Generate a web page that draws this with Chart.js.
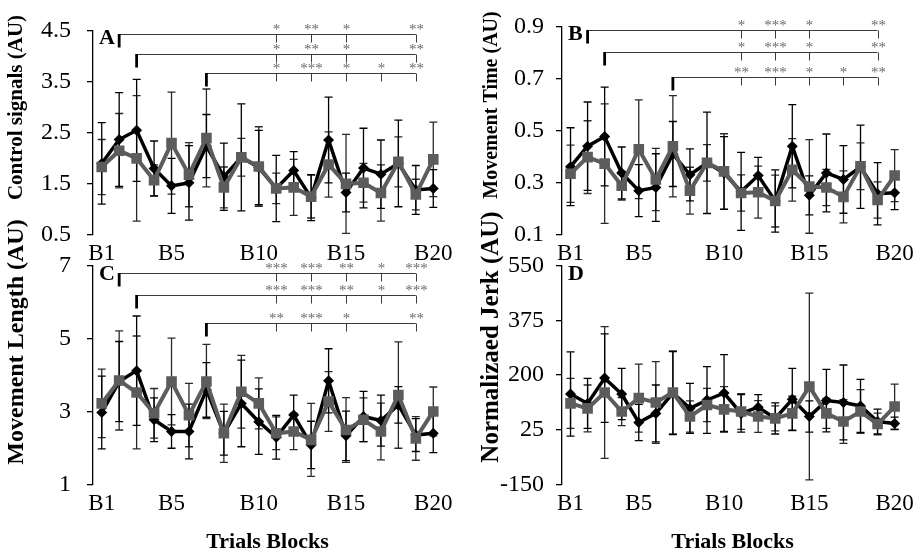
<!DOCTYPE html>
<html>
<head>
<meta charset="utf-8">
<script src="https://cdn.jsdelivr.net/npm/chart.js@4.4.1/dist/chart.umd.min.js"></script>
<style>
body { margin: 0; background: #fff; }
#lienzo { position: relative; width: 920px; height: 556px; overflow: hidden; }
#lienzo canvas { position: absolute; left: 0; top: 0; }
</style>
</head>
<body>
<div id="lienzo">
  <canvas id="panelA" width="920" height="556"></canvas>
  <canvas id="panelB" width="920" height="556"></canvas>
  <canvas id="panelC" width="920" height="556"></canvas>
  <canvas id="panelD" width="920" height="556"></canvas>
</div>
<script>
const bloques = ['B1', 'B2', 'B3', 'B4', 'B5', 'B6', 'B7', 'B8', 'B9', 'B10',
                 'B11', 'B12', 'B13', 'B14', 'B15', 'B16', 'B17', 'B18', 'B19', 'B20'];
const etiquetasX = ['B1', 'B5', 'B10', 'B15', 'B20'];

// A - control signals
const controlNegro    = [1.89, 2.36, 2.54, 1.79, 1.45, 1.51, 2.23, 1.63, 2.01, 1.81, 1.40, 1.75, 1.22, 2.35, 1.32, 1.80, 1.68, 1.89, 1.37, 1.40];
const controlNegroErr = [0.80, 0.92, 1.00, 0.54, 0.54, 0.73, 0.62, 0.66, 1.05, 0.73, 0.65, 0.37, 0.45, 0.84, 0.38, 0.78, 0.67, 0.85, 0.48, 0.37];
const controlGris     = [1.82, 2.14, 1.99, 1.56, 2.29, 1.67, 2.39, 1.42, 2.01, 1.83, 1.40, 1.42, 1.24, 1.87, 1.49, 1.51, 1.31, 1.92, 1.28, 1.97];
const controlGrisErr  = [0.54, 0.73, 1.23, 0.30, 1.00, 0.63, 0.96, 0.40, 0.37, 0.78, 0.30, 0.55, 0.42, 0.64, 0.97, 0.38, 0.55, 0.49, 0.30, 0.73];
const ticksControl = [0.5, 1.5, 2.5, 3.5, 4.5];
const nivelesControl = [4.43, 4.04, 3.67];
const sigControl = [['*', '**', '*', '', '**'], ['*', '**', '*', '', '**'], ['*', '***', '*', '*', '**']];

// B - movement time
const tiempoNegro    = [0.360, 0.439, 0.476, 0.336, 0.268, 0.280, 0.409, 0.329, 0.375, 0.336, 0.265, 0.326, 0.228, 0.439, 0.250, 0.336, 0.311, 0.360, 0.256, 0.260];
const tiempoNegroErr = [0.150, 0.170, 0.190, 0.100, 0.100, 0.130, 0.125, 0.100, 0.195, 0.140, 0.150, 0.070, 0.120, 0.160, 0.075, 0.150, 0.130, 0.160, 0.120, 0.065];
const tiempoGris     = [0.333, 0.397, 0.372, 0.287, 0.427, 0.311, 0.439, 0.268, 0.375, 0.342, 0.259, 0.262, 0.228, 0.348, 0.284, 0.280, 0.244, 0.362, 0.232, 0.326];
const tiempoGrisErr  = [0.110, 0.140, 0.230, 0.055, 0.190, 0.120, 0.195, 0.090, 0.070, 0.145, 0.070, 0.100, 0.100, 0.120, 0.180, 0.070, 0.100, 0.090, 0.070, 0.100];
const ticksTiempo = [0.1, 0.3, 0.5, 0.7, 0.9];
const nivelesTiempo = [0.887, 0.803, 0.704];
const sigTiempo = [['*', '***', '*', '', '**'], ['*', '***', '*', '', '**'], ['**', '***', '*', '*', '**']];

// C - movement length
const longNegro    = [2.97, 3.82, 4.12, 2.77, 2.45, 2.45, 3.59, 2.40, 3.22, 2.72, 2.29, 2.90, 2.08, 3.84, 2.33, 2.86, 2.75, 3.18, 2.35, 2.40];
const longNegroErr = [1.00, 1.10, 1.50, 0.60, 0.46, 0.75, 0.75, 0.60, 1.19, 0.90, 0.60, 0.55, 0.65, 0.88, 0.68, 0.69, 0.70, 0.50, 0.45, 0.53];
const longGris     = [3.22, 3.85, 3.52, 2.95, 3.82, 2.90, 3.82, 2.40, 3.54, 3.22, 2.40, 2.45, 2.22, 3.27, 2.49, 2.77, 2.45, 3.45, 2.26, 3.00];
const longGrisErr  = [0.94, 1.36, 1.55, 0.68, 1.19, 0.87, 1.02, 0.80, 1.00, 0.70, 0.45, 0.50, 1.00, 0.82, 0.89, 0.60, 0.78, 1.46, 0.60, 0.67];
const ticksLong = [1, 3, 5, 7];
const nivelesLong = [6.79, 6.20, 5.42];
const sigLong = [['***', '***', '**', '*', '***'], ['***', '***', '**', '*', '***'], ['**', '***', '*', '', '**']];

// D - normalized jerk
const jerkNegro    = [139, 109, 190, 139, 48, 77, 142, 93, 120, 142, 77, 97, 61, 122, 67, 118, 112, 101, 51, 45];
const jerkNegroErr = [135, 80, 142, 82, 58, 91, 133, 80, 107, 123, 60, 40, 50, 99, 50, 100, 120, 85, 40, 20];
const jerkGris     = [109, 93, 144, 83, 126, 112, 144, 67, 104, 90, 83, 67, 61, 77, 163, 77, 51, 83, 43, 99];
const jerkGrisErr  = [80, 75, 211, 45, 109, 131, 133, 50, 53, 73, 57, 51, 40, 55, 299, 48, 70, 70, 35, 72];
const ticksJerk = [-150, 25, 200, 375, 550];

const iniciosCorchete = ['B2', 'B3', 'B7'];
const columnasSig = ['B11', 'B13', 'B15', 'B17', 'B19'];

const SERIF = '"Liberation Serif", "Times New Roman", serif';

// error bars for every dataset
const barrasError = {
    id: 'barrasError',
    beforeDatasetsDraw(chart) {
        const { ctx, scales: { x, y } } = chart;
        ctx.save();
        chart.data.datasets.forEach(ds => {
            ctx.strokeStyle = ds.colorError;
            ctx.lineWidth = 1.3;
            ds.data.forEach((v, i) => {
                const px = x.getPixelForValue(i);
                const arriba = y.getPixelForValue(v + ds.errores[i]);
                const abajo = y.getPixelForValue(v - ds.errores[i]);
                ctx.beginPath();
                ctx.moveTo(px, arriba); ctx.lineTo(px, abajo);
                ctx.moveTo(px - 4, arriba); ctx.lineTo(px + 4, arriba);
                ctx.moveTo(px - 4, abajo); ctx.lineTo(px + 4, abajo);
                ctx.stroke();
            });
        });
        ctx.restore();
    }
};

function crearDecoraciones(config) {
    return {
        id: 'decoraciones',
        afterDraw(chart) {
            const { ctx, chartArea, scales: { x, y } } = chart;
            ctx.save();
            // panel letter
            ctx.fillStyle = '#000';
            ctx.font = 'bold 22px ' + SERIF;
            ctx.textAlign = 'left';
            ctx.textBaseline = 'alphabetic';
            ctx.fillText(config.letra, chartArea.left + 6, chartArea.top + 14);

            // y title
            ctx.save();
            ctx.translate(config.tituloY.x, config.tituloY.y);
            ctx.rotate(-Math.PI / 2);
            ctx.font = 'bold ' + config.tituloY.size + 'px ' + SERIF;
            ctx.textAlign = 'center';
            ctx.textBaseline = 'middle';
            ctx.fillText(config.etiquetaY, 0, 0);
            ctx.restore();

            // significance brackets
            (config.niveles || []).forEach((nivel, k) => {
                const yy = Math.round(y.getPixelForValue(nivel)) + 0.5;
                const x0 = x.getPixelForValue(bloques.indexOf(iniciosCorchete[k]));
                const x1 = x.getPixelForValue(bloques.indexOf(columnasSig[columnasSig.length - 1]));
                ctx.strokeStyle = '#3a3a3a';
                ctx.lineWidth = 1;
                ctx.beginPath();
                ctx.moveTo(x0, yy); ctx.lineTo(x1, yy);
                ctx.stroke();
                ctx.strokeStyle = '#000';
                ctx.lineWidth = 2.8;
                ctx.beginPath();
                ctx.moveTo(x0, yy - 0.5); ctx.lineTo(x0, yy + 13);
                ctx.stroke();
                ctx.font = '15px ' + SERIF;
                ctx.textAlign = 'center';
                ctx.textBaseline = 'middle';
                config.sig[k].forEach((txt, j) => {
                    if (!txt) return;
                    const px = Math.round(x.getPixelForValue(bloques.indexOf(columnasSig[j]))) + 0.5;
                    ctx.strokeStyle = '#3a3a3a';
                    ctx.lineWidth = 1;
                    ctx.beginPath();
                    ctx.moveTo(px, yy); ctx.lineTo(px, yy + 8);
                    ctx.stroke();
                    ctx.fillStyle = '#6a6a6a';
                    ctx.fillText(txt, px, yy - 4);
                });
            });
            ctx.restore();
        }
    };
}

function inicializarPanel(config) {
    const ctx = document.getElementById(config.id).getContext('2d');
    const anchoY = 70;
    const altoX = config.tituloX ? 556 - config.area.bottom : 40;

    new Chart(ctx, {
        type: 'line',
        data: {
            labels: bloques,
            datasets: [
                {
                    label: 'gris',
                    data: config.gris,
                    errores: config.grisErr,
                    colorError: '#2a2a2a',
                    borderColor: '#5c5c5c',
                    backgroundColor: '#5c5c5c',
                    borderWidth: 4,
                    pointStyle: 'rect',
                    pointRadius: 7.5,
                    pointBorderWidth: 0,
                    tension: 0,
                    order: 0
                },
                {
                    label: 'negro',
                    data: config.negro,
                    errores: config.negroErr,
                    colorError: '#000',
                    borderColor: '#000',
                    backgroundColor: '#000',
                    borderWidth: 3.5,
                    pointStyle: 'rectRot',
                    pointRadius: 5.5,
                    pointBorderWidth: 0,
                    tension: 0,
                    order: 1
                }
            ]
        },
        options: {
            responsive: false,
            animation: false,
            devicePixelRatio: 1,
            layout: {
                padding: {
                    left: config.area.left - anchoY,
                    top: config.area.top,
                    right: 920 - config.area.right,
                    bottom: 556 - config.area.bottom - altoX
                }
            },
            plugins: {
                legend: { display: false },
                tooltip: { enabled: false }
            },
            scales: {
                x: {
                    type: 'category',
                    offset: true,
                    grid: { display: false, drawTicks: false },
                    border: { display: false },
                    ticks: {
                        autoSkip: false,
                        maxRotation: 0,
                        padding: 6,
                        color: '#000',
                        font: { family: SERIF, size: 23 },
                        callback: (v, i) => etiquetasX.includes(bloques[i]) ? bloques[i] : ''
                    },
                    title: {
                        display: !!config.tituloX,
                        text: 'Trials Blocks',
                        color: '#000',
                        font: { family: SERIF, size: 22, weight: 'bold' },
                        padding: { top: 0, bottom: 0 }
                    },
                    afterFit: scale => { scale.height = altoX; }
                },
                y: {
                    min: config.ticksY[0],
                    max: config.ticksY[config.ticksY.length - 1],
                    afterBuildTicks: scale => { scale.ticks = config.ticksY.map(v => ({ value: v })); },
                    grid: { display: true, drawOnChartArea: false, drawTicks: true, tickLength: 6, color: '#000', lineWidth: 1.3 },
                    border: { display: true, color: '#000', width: 1.3 },
                    ticks: {
                        color: '#000',
                        padding: config.padTicks,
                        font: { family: SERIF, size: 24 },
                        callback: v => String(v)
                    },
                    afterFit: scale => { scale.width = anchoY; }
                }
            }
        },
        plugins: [barrasError, crearDecoraciones(config)]
    });
}

inicializarPanel({
    id: 'panelA', letra: 'A', etiquetaY: 'Control signals (AU)',
    negro: controlNegro, negroErr: controlNegroErr, gris: controlGris, grisErr: controlGrisErr,
    ticksY: ticksControl, niveles: nivelesControl, sig: sigControl,
    area: { left: 93, top: 15.7, right: 442, bottom: 234.3 },
    tituloY: { x: 16.5, y: 107.5, size: 21 }, padTicks: 16
});
inicializarPanel({
    id: 'panelB', letra: 'B', etiquetaY: 'Movement Time (AU)',
    negro: tiempoNegro, negroErr: tiempoNegroErr, gris: tiempoGris, grisErr: tiempoGrisErr,
    ticksY: ticksTiempo, niveles: nivelesTiempo, sig: sigTiempo,
    area: { left: 562, top: 15.7, right: 912, bottom: 234.3 },
    tituloY: { x: 491.7, y: 105, size: 20 }, padTicks: 12
});
inicializarPanel({
    id: 'panelC', letra: 'C', etiquetaY: 'Movement Length (AU)',
    negro: longNegro, negroErr: longNegroErr, gris: longGris, grisErr: longGrisErr,
    ticksY: ticksLong, niveles: nivelesLong, sig: sigLong,
    area: { left: 93, top: 265.7, right: 442, bottom: 484.3 },
    tituloY: { x: 16.5, y: 342, size: 24 }, padTicks: 16, tituloX: true
});
inicializarPanel({
    id: 'panelD', letra: 'D', etiquetaY: 'Normalizaed Jerk (AU)',
    negro: jerkNegro, negroErr: jerkNegroErr, gris: jerkGris, grisErr: jerkGrisErr,
    ticksY: ticksJerk, niveles: null, sig: null,
    area: { left: 562, top: 265.7, right: 912, bottom: 484.3 },
    tituloY: { x: 491.7, y: 337, size: 25 }, padTicks: 12, tituloX: true
});
</script>
</body>
</html>
